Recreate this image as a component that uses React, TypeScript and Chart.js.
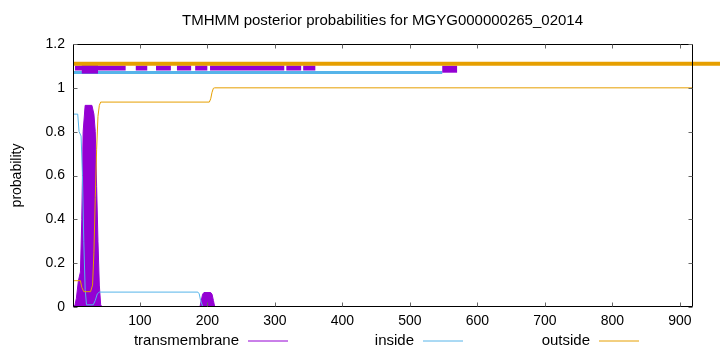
import React, { useEffect, useRef } from "react";
import { Chart, registerables } from "chart.js";

Chart.register(...registerables);

const TITLE = "TMHMM posterior probabilities for MGYG000000265_02014";
const Y_TITLE = "probability";
const SERIES_LABELS = ["transmembrane", "inside", "outside"];
const COLORS = ["#9400d3", "#56b4e9", "#e69f00"];

const X_MIN = 1;
const X_MAX = 918;
const X_TICKS = [100, 200, 300, 400, 500, 600, 700, 800, 900];
const Y_TICKS = [0, 0.2, 0.4, 0.6, 0.8, 1, 1.2];
const Y_TICK_LABELS = ["0", "0.2", "0.4", "0.6", "0.8", "1", "1.2"];

// posterior probability curves (residue, probability)
const TM_X = [1, 4, 6, 9, 12, 14, 16, 19, 29, 32, 34, 36, 38, 40, 42, 44, 189, 191, 193, 195, 205, 207, 209, 211, 918];
const TM_Y = [0, 0.01, 0.04, 0.12, 0.16, 0.4, 0.8, 0.92, 0.92, 0.88, 0.8, 0.55, 0.3, 0.1, 0.01, 0, 0, 0.03, 0.058, 0.066, 0.066, 0.058, 0.03, 0, 0];

const IN_X = [1, 8, 10, 13, 15, 17, 19, 21, 31, 34, 37, 40, 186, 188, 190, 193, 195, 918];
const IN_Y = [0.88, 0.88, 0.8, 0.78, 0.6, 0.3, 0.08, 0.01, 0.01, 0.03, 0.06, 0.068, 0.068, 0.06, 0.03, 0.003, 0, 0];

const OUT_X = [1, 12, 14, 17, 27, 30, 32, 34, 36, 38, 40, 42, 203, 205, 207, 209, 211, 918];
const OUT_Y = [0.12, 0.12, 0.09, 0.07, 0.07, 0.1, 0.25, 0.5, 0.72, 0.87, 0.92, 0.935, 0.935, 0.95, 0.98, 0.998, 1, 1];

// predicted topology bars above the plot (residue ranges)
const TM_BAR_LEVEL = 1.09;
const IN_BAR_LEVEL = 1.07;
const OUT_BAR_LEVEL = 1.11;
const TM_BAR_STARTS = [4, 94, 124, 155, 182, 204, 317, 342];
const TM_BAR_ENDS = [79, 111, 146, 176, 200, 314, 339, 360];
const TM_BOX1 = [14, 38];
const TM_BOX2 = [548, 570];
const IN_BAR = [1, 548];
const OUT_BAR = [1, 1000];

const FONT = '"Liberation Sans", Arial, sans-serif';

function pts(xs: number[], ys: number[]) {
  return xs.map((x, i) => ({ x, y: ys[i] }));
}
function segs(starts: number[], ends: number[], level: number) {
  const out: any[] = [];
  starts.forEach((s, i) => {
    out.push({ x: s, y: level }, { x: ends[i], y: level }, { x: ends[i], y: null });
  });
  return out;
}

const framePlugin = {
  id: "frame",
  afterDatasetsDraw(chart: any) {
    const { ctx, chartArea: a } = chart;
    const xs = chart.scales.x;
    const ys = chart.scales.y;
    ctx.save();
    ctx.strokeStyle = "#000";
    ctx.lineWidth = 1;
    const L = Math.round(a.left) + 0.5;
    const R = Math.round(a.right) + 0.5;
    const T = Math.round(a.top) + 0.5;
    const B = Math.round(a.bottom) - 0.5;
    ctx.beginPath();
    ctx.rect(L, T, R - L, B - T);
    ctx.stroke();
    ctx.strokeStyle = "#666";
    ctx.beginPath();
    const tl = 4;
    X_TICKS.forEach((v) => {
      const px = Math.round(xs.getPixelForValue(v)) + 0.5;
      ctx.moveTo(px, B);
      ctx.lineTo(px, B - tl);
      ctx.moveTo(px, T);
      ctx.lineTo(px, T + tl);
    });
    Y_TICKS.forEach((v) => {
      const py = Math.round(ys.getPixelForValue(v)) + 0.5;
      ctx.moveTo(L, py);
      ctx.lineTo(L + tl, py);
      ctx.moveTo(R, py);
      ctx.lineTo(R - tl, py);
    });
    ctx.stroke();
    ctx.restore();
  },
};

const textPlugin = {
  id: "gpText",
  afterDraw(chart: any) {
    const { ctx, chartArea: a } = chart;
    ctx.save();
    ctx.font = `15px ${FONT}`;
    ctx.fillStyle = "#000";
    ctx.textBaseline = "middle";
    // title, centred on the plot area
    ctx.textAlign = "center";
    ctx.fillText(TITLE, (a.left + a.right) / 2, 21);
    // legend: text then line sample
    const textRights = [239, 414, 590];
    const y = 341;
    ctx.textAlign = "right";
    SERIES_LABELS.forEach((lab, i) => {
      ctx.fillStyle = "#000";
      ctx.fillText(lab, textRights[i], y);
      ctx.strokeStyle = COLORS[i];
      ctx.lineWidth = 1;
      ctx.beginPath();
      ctx.moveTo(textRights[i] + 9, y);
      ctx.lineTo(textRights[i] + 49, y);
      ctx.stroke();
    });
    ctx.restore();
  },
};

export default function App() {
  const ref = useRef<HTMLCanvasElement>(null);
  useEffect(() => {
    document.body.style.margin = "0";
    const canvas = ref.current!;
    const chart = new Chart(canvas, {
      type: "line",
      data: {
        datasets: [
          {
            label: SERIES_LABELS[0],
            data: pts(TM_X, TM_Y),
            borderColor: COLORS[0],
            backgroundColor: COLORS[0],
            borderWidth: 1,
            fill: "origin",
            pointRadius: 0,
            order: 7,
          },
          {
            label: SERIES_LABELS[1],
            data: pts(IN_X, IN_Y),
            borderColor: COLORS[1],
            borderWidth: 1,
            fill: false,
            pointRadius: 0,
            order: 6,
          },
          {
            label: SERIES_LABELS[2],
            data: pts(OUT_X, OUT_Y),
            borderColor: COLORS[2],
            borderWidth: 1,
            fill: false,
            pointRadius: 0,
            order: 5,
          },
          {
            label: "inside bar",
            data: segs([IN_BAR[0]], [IN_BAR[1]], IN_BAR_LEVEL),
            borderColor: COLORS[1],
            borderWidth: 3,
            fill: false,
            pointRadius: 0,
            spanGaps: false,
            order: 4,
          },
          {
            label: "tm bar",
            data: segs(TM_BAR_STARTS, TM_BAR_ENDS, TM_BAR_LEVEL),
            borderColor: COLORS[0],
            borderWidth: 5,
            fill: false,
            pointRadius: 0,
            spanGaps: false,
            order: 3,
          },
          {
            label: "tm box 1",
            data: segs([TM_BOX1[0]], [TM_BOX1[1]], TM_BAR_LEVEL),
            borderColor: COLORS[0],
            borderWidth: 11,
            fill: false,
            pointRadius: 0,
            order: 2,
          },
          {
            label: "tm box 2",
            data: segs([TM_BOX2[0]], [TM_BOX2[1]], TM_BAR_LEVEL - 0.005),
            borderColor: COLORS[0],
            borderWidth: 7,
            fill: false,
            pointRadius: 0,
            order: 2,
          },
          {
            label: "outside bar",
            data: segs([OUT_BAR[0]], [OUT_BAR[1]], OUT_BAR_LEVEL),
            borderColor: COLORS[2],
            borderWidth: 4,
            fill: false,
            pointRadius: 0,
            clip: false as any,
            order: 1,
          },
        ],
      },
      options: {
        animation: false,
        responsive: false,
        events: [],
        layout: { padding: { left: 0, right: 28, top: 44, bottom: 0 } },
        elements: { line: { tension: 0 } },
        plugins: {
          legend: { display: false },
          tooltip: { enabled: false },
          title: { display: false },
        },
        scales: {
          x: {
            type: "linear",
            min: X_MIN,
            max: X_MAX,
            grid: { display: false, drawTicks: false },
            border: { display: false },
            afterBuildTicks: (s: any) => {
              s.ticks = X_TICKS.map((v) => ({ value: v }));
            },
            afterFit: (s: any) => {
              s.height = 45;
            },
            ticks: {
              autoSkip: false,
              maxRotation: 0,
              padding: 6,
              color: "#000",
              font: { family: FONT, size: 14 },
              callback: (v: any) => String(v),
            },
          },
          y: {
            type: "linear",
            min: 0,
            max: 1.2,
            grid: { display: false, drawTicks: false },
            border: { display: false },
            afterBuildTicks: (s: any) => {
              s.ticks = Y_TICKS.map((v) => ({ value: v }));
            },
            afterFit: (s: any) => {
              s.width = 73;
            },
            title: {
              display: true,
              text: Y_TITLE,
              color: "#000",
              font: { family: FONT, size: 14 },
              padding: 9,
            },
            ticks: {
              padding: 8,
              color: "#000",
              font: { family: FONT, size: 14 },
              callback: (_v: any, i: number) => Y_TICK_LABELS[i],
            },
          },
        },
      },
      plugins: [framePlugin, textPlugin],
    });
    return () => chart.destroy();
  }, []);
  return <canvas ref={ref} width={720} height={352} style={{ display: "block" }} />;
}
